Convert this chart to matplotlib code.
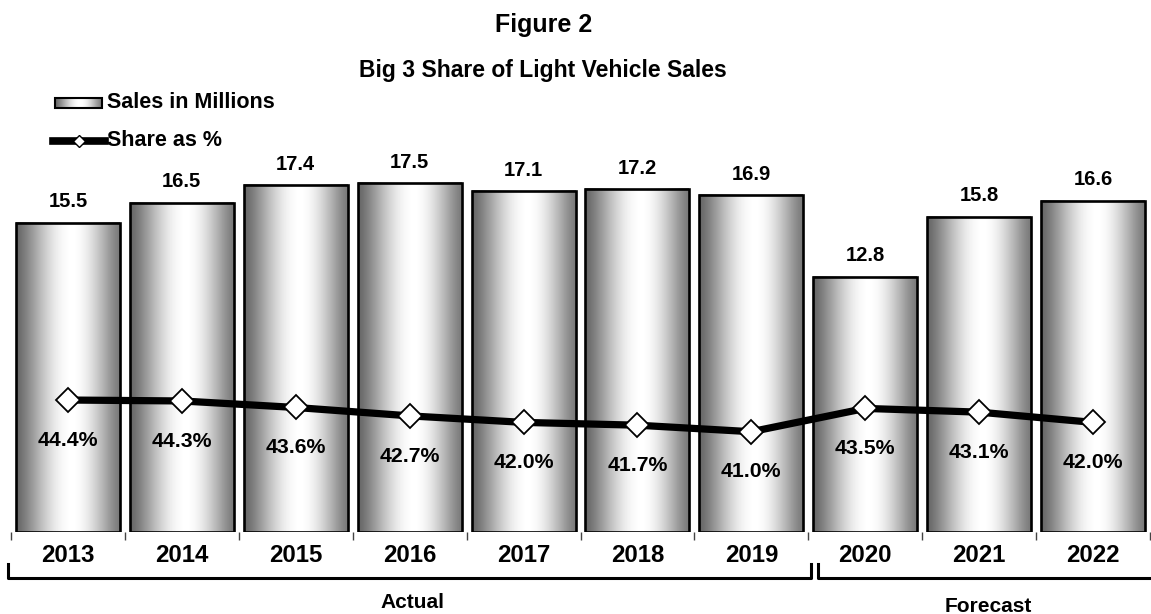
import numpy as np
import matplotlib
matplotlib.use("Agg")
import matplotlib.pyplot as plt
from matplotlib.lines import Line2D
from matplotlib.patches import Rectangle

years = ["2013", "2014", "2015", "2016", "2017", "2018", "2019", "2020", "2021", "2022"]
sales = [15.5, 16.5, 17.4, 17.5, 17.1, 17.2, 16.9, 12.8, 15.8, 16.6]
share = [44.4, 44.3, 43.6, 42.7, 42.0, 41.7, 41.0, 43.5, 43.1, 42.0]
sales_labels = ["15.5", "16.5", "17.4", "17.5", "17.1", "17.2", "16.9", "12.8", "15.8", "16.6"]
share_labels = ["44.4%", "44.3%", "43.6%", "42.7%", "42.0%", "41.7%", "41.0%", "43.5%", "43.1%", "42.0%"]
title = "Figure 2"
subtitle = "Big 3 Share of Light Vehicle Sales"
legend_labels = ["Sales in Millions", "Share as %"]
group_labels = ["Actual", "Forecast"]

plt.rcParams['font.family'] = ['Liberation Sans', 'DejaVu Sans']
plt.rcParams['font.weight'] = 'bold'

W, H = 1151, 614
fig = plt.figure(figsize=(W / 100, H / 100), dpi=100)

# gradient profile (horizontal cylinder shading)
t = np.linspace(0, 1, 256)
peak = 0.54
left_v, right_v = 0.40, 0.48
prof = np.where(t < peak,
                left_v + (1 - left_v) * np.sin(np.pi / 2 * t / peak) ** 1.3,
                right_v + (1 - right_v) * np.sin(np.pi / 2 * (1 - t) / (1 - peak)) ** 1.3)
grad = np.tile(prof, (2, 1))

ax_left = 11 / W
ax_w = 1139 / W
ax_bot = (H - 532) / H
ax_top_px = 133
ax_h = (532 - ax_top_px) / H
ax = fig.add_axes([ax_left, ax_bot, ax_w, ax_h])
ax.set_xlim(-0.5, len(years) - 0.5)
ax.set_ylim(0, 20)

x = np.arange(len(years))
bw = 0.913
for xi, v in zip(x, sales):
    ax.imshow(grad, cmap='gray', vmin=0, vmax=1, extent=(xi - bw / 2, xi + bw / 2, 0, v),
              aspect='auto', interpolation='bilinear', zorder=1)
ax.bar(x, sales, width=bw, facecolor='none', edgecolor='black', linewidth=1.9, zorder=2)
for xi, v, lab in zip(x, sales, sales_labels):
    ax.annotate(lab, (xi, v), xytext=(0, 15), textcoords='offset points',
                ha='center', va='center', fontsize=14.5, fontweight='bold')

for s in ax.spines.values():
    s.set_visible(False)
ax.set_yticks([])
ax.set_xticks(x)
ax.set_xticklabels(years, fontsize=17.3, fontweight='bold')
ax.tick_params(axis='x', which='major', length=0, pad=9)
ax.set_xticks(np.arange(-0.5, len(years) + 0.5, 1), minor=True)
ax.tick_params(axis='x', which='minor', length=6, width=1, color='#444444', direction='out')
ax.set_xlim(-0.5, len(years) - 0.5)

ax2 = ax.twinx()
ax2.set_ylim(30.24, 73.05)
ax2.set_xlim(-0.5, len(years) - 0.5)
ax2.plot(x, share, color='black', linewidth=5.2, marker='D', markersize=12.5,
         markerfacecolor='white', markeredgecolor='black', markeredgewidth=1.3, zorder=5,
         solid_joinstyle='round')
for xi, v, lab in zip(x, share, share_labels):
    ax2.annotate(lab, (xi, v), xytext=(0, -29), textcoords='offset points',
                 ha='center', va='center', fontsize=15.3, fontweight='bold')
ax2.set_yticks([])
for s in ax2.spines.values():
    s.set_visible(False)

# overlay in pixel coordinates for titles, legend and brackets
ov = fig.add_axes([0, 0, 1, 1], zorder=10)
ov.set_xlim(0, W)
ov.set_ylim(H, 0)
ov.axis('off')
ov.patch.set_alpha(0)

ov.text(544, 25, title, ha='center', va='center', fontsize=18, fontweight='bold')
ov.text(543, 71, subtitle, ha='center', va='center', fontsize=16.5, fontweight='bold')

# legend
ov.imshow(grad, cmap='gray', vmin=0, vmax=1, extent=(55, 102, 108, 98),
          aspect='auto', interpolation='bilinear', zorder=1)
ov.add_patch(Rectangle((55, 98), 47, 10, facecolor='none', edgecolor='black', linewidth=1.5, zorder=2))
ov.text(107, 102, legend_labels[0], ha='left', va='center', fontsize=15.5, fontweight='bold')
ov.add_line(Line2D([53, 105], [141, 141], color='black', linewidth=5.5, marker=None))
ov.plot([79], [141], marker='D', markersize=6.5, markerfacecolor='white',
        markeredgecolor='black', markeredgewidth=1)
ov.text(107, 141, legend_labels[1], ha='left', va='center', fontsize=15.5, fontweight='bold')

# brackets
bk = dict(color='black', linewidth=2.2, solid_capstyle='projecting')
ov.add_line(Line2D([8.5, 8.5, 811, 811], [564, 578, 578, 564], **bk))
ov.add_line(Line2D([818, 818, 1160], [564, 578, 578], **bk))
ov.text(412, 603, group_labels[0], ha='center', va='center', fontsize=15, fontweight='bold')
ov.text(988, 606, group_labels[1], ha='center', va='center', fontsize=15, fontweight='bold')

fig.savefig("out.png", dpi=100)
